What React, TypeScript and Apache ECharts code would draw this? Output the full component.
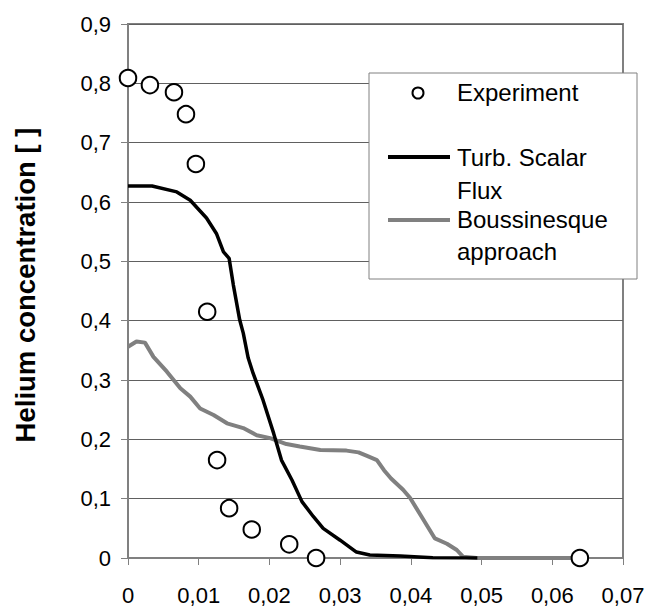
import React, { useEffect, useRef } from "react";
import * as echarts from "echarts";

const seriesNames = ["Experiment", "Turb. Scalar Flux", "Boussinesque approach"];
const legendLines = [["Experiment"], ["Turb. Scalar", "Flux"], ["Boussinesque", "approach"]];
const yAxisTitle = "Helium concentration [ ]";

const expX = [0, 0.0031, 0.0065, 0.0082, 0.0096, 0.0112, 0.0126, 0.0143, 0.0175, 0.0228, 0.0266, 0.0639];
const expY = [0.809, 0.797, 0.785, 0.748, 0.664, 0.415, 0.165, 0.084, 0.048, 0.023, 0.0, 0.0];

const turbX = [0, 0.0034, 0.0069, 0.0088, 0.0111, 0.0125, 0.0135, 0.0143, 0.0149, 0.0158, 0.0163, 0.017, 0.0177, 0.0191, 0.0206, 0.0217, 0.0232, 0.0246, 0.0262, 0.0276, 0.03, 0.0323, 0.0342, 0.0385, 0.0431, 0.0494];
const turbY = [0.627, 0.627, 0.617, 0.603, 0.573, 0.547, 0.516, 0.505, 0.46, 0.401, 0.379, 0.337, 0.311, 0.266, 0.21, 0.165, 0.131, 0.095, 0.07, 0.05, 0.03, 0.01, 0.005, 0.0035, 0.0005, 0];

const bousX = [0, 0.0012, 0.0024, 0.0036, 0.0055, 0.0074, 0.0088, 0.0102, 0.0121, 0.014, 0.0163, 0.0182, 0.0201, 0.0224, 0.0243, 0.0272, 0.0309, 0.0326, 0.0338, 0.0352, 0.0362, 0.0372, 0.0389, 0.0399, 0.0415, 0.0434, 0.0451, 0.0465, 0.0474, 0.0493, 0.0639];
const bousY = [0.356, 0.365, 0.363, 0.339, 0.314, 0.286, 0.272, 0.252, 0.241, 0.227, 0.219, 0.207, 0.202, 0.192, 0.188, 0.182, 0.181, 0.178, 0.172, 0.165, 0.148, 0.134, 0.115, 0.101, 0.07, 0.033, 0.024, 0.0135, 0.002, 0, 0];

const FONT = "'Liberation Sans', Arial, sans-serif";

function pairs(xs: number[], ys: number[]) {
  return xs.map((x, i) => [x, ys[i]]);
}

export default function App() {
  const ref = useRef<HTMLDivElement>(null);
  useEffect(() => {
    if (!ref.current) return;
    const chart = echarts.init(ref.current, null, { renderer: "svg" });
    const legendX = 369, legendY = 73, legendW = 268, legendH = 206;
    const option: any = {
      animation: false,
      backgroundColor: "#fff",
      grid: {
        left: 128, top: 24, right: 27, bottom: 52,
        show: true, borderColor: "#808080", borderWidth: 2, backgroundColor: "#fff",
      },
      xAxis: {
        type: "value", min: 0, max: 0.07, interval: 0.01,
        axisLine: { show: true, lineStyle: { color: "#808080", width: 2 } },
        axisTick: { show: true, length: 7, lineStyle: { color: "#808080", width: 1 } },
        splitLine: { show: false },
        axisLabel: {
          margin: 26, color: "#000", fontSize: 22, fontFamily: FONT,
          formatter: (v: number) => (v === 0 ? "0" : v.toFixed(2).replace(".", ",")),
        },
      },
      yAxis: {
        type: "value", min: 0, max: 0.9, interval: 0.1,
        axisLine: { show: true, lineStyle: { color: "#808080", width: 2 } },
        axisTick: { show: true, length: 7, lineStyle: { color: "#808080", width: 1 } },
        splitLine: { show: true, lineStyle: { color: "#606060", width: 1 } },
        axisLabel: {
          margin: 17, color: "#000", fontSize: 22, fontFamily: FONT,
          formatter: (v: number) => (v === 0 ? "0" : v.toFixed(1).replace(".", ",")),
        },
      },
      series: [
        {
          name: seriesNames[1], type: "line", data: pairs(turbX, turbY),
          symbol: "none", lineStyle: { color: "#000", width: 3.5 }, z: 3,
        },
        {
          name: seriesNames[2], type: "line", data: pairs(bousX, bousY),
          symbol: "none", lineStyle: { color: "#808080", width: 4 }, z: 2,
        },
        {
          name: seriesNames[0], type: "scatter", data: pairs(expX, expY),
          symbol: "circle", symbolSize: 16.5,
          itemStyle: { color: "#fff", borderColor: "#000", borderWidth: 2, opacity: 1 }, z: 4,
        },
      ],
      graphic: [
        {
          type: "text", x: 25, y: 285, rotation: Math.PI / 2,
          style: { text: yAxisTitle, font: `bold 27.5px ${FONT}`, fill: "#000", align: "center", verticalAlign: "middle" },
        },
        {
          type: "rect", shape: { x: legendX, y: legendY, width: legendW, height: legendH },
          style: { fill: "#fff", stroke: "#808080", lineWidth: 1 }, z: 10,
        },
        {
          type: "circle", shape: { cx: 418, cy: 93, r: 5.5 },
          style: { fill: "#fff", stroke: "#000", lineWidth: 2 }, z: 11,
        },
        {
          type: "text", x: 457, y: 92, z: 11,
          style: { text: legendLines[0].join("\n"), font: `24px ${FONT}`, fill: "#000", align: "left", verticalAlign: "middle" },
        },
        {
          type: "line", shape: { x1: 388, y1: 157, x2: 450, y2: 157 },
          style: { stroke: "#000", lineWidth: 4 }, z: 11,
        },
        {
          type: "text", x: 457, y: 174, z: 11,
          style: { text: legendLines[1].join("\n"), font: `24px ${FONT}`, fill: "#000", align: "left", verticalAlign: "middle", lineHeight: 33 },
        },
        {
          type: "line", shape: { x1: 388, y1: 220, x2: 450, y2: 220 },
          style: { stroke: "#808080", lineWidth: 4 }, z: 11,
        },
        {
          type: "text", x: 457, y: 235, z: 11,
          style: { text: legendLines[2].join("\n"), font: `24px ${FONT}`, fill: "#000", align: "left", verticalAlign: "middle", lineHeight: 32 },
        },
      ],
    };
    chart.setOption(option);
    return () => chart.dispose();
  }, []);
  return <div ref={ref} style={{ position: "fixed", left: 0, top: 0, width: 650, height: 610 }} />;
}
